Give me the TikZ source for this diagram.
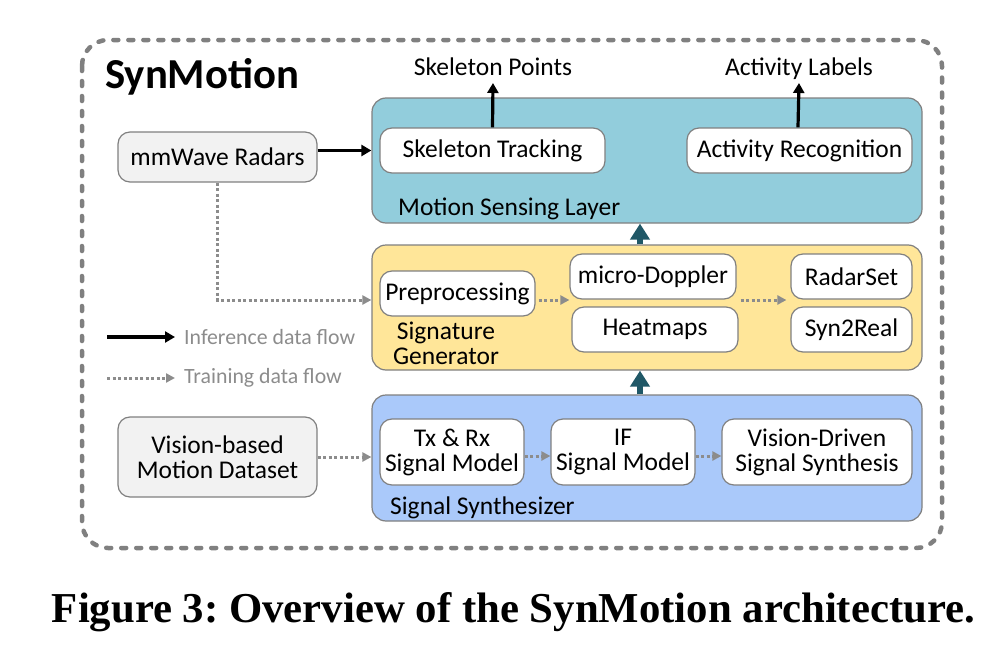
\documentclass[tikz,border=0pt]{standalone}
\usepackage{fontspec}
\setmainfont{Carlito}
\newfontfamily\capfont{Liberation Serif}
\usetikzlibrary{arrows.meta}
\definecolor{bordergray}{RGB}{128,128,128}
\definecolor{dashgray}{RGB}{128,128,128}
\definecolor{traingray}{RGB}{140,140,140}
\definecolor{tealfill}{RGB}{146,205,220}
\definecolor{yellowfill}{RGB}{255,230,153}
\definecolor{bluefill}{RGB}{170,201,250}
\definecolor{darkteal}{RGB}{32,88,103}
\definecolor{lightgrayfill}{RGB}{242,242,242}
\frenchspacing
\begin{document}
\begin{tikzpicture}[x=1pt,y=-1pt,
  box/.style={draw=bordergray, line width=1.2pt, rounded corners=12pt, fill=white, inner sep=0pt,
    font=\fontsize{25.5}{25}\selectfont, align=center},
  srcbox/.style={box, fill=lightgrayfill},
  layerbox/.style={draw=bordergray, line width=1.2pt, rounded corners=14pt, inner sep=0pt},
  lbl/.style={font=\fontsize{25.5}{25}\selectfont, align=center, inner sep=0pt},
  inf/.style={line width=3.2pt, -{Triangle[length=10pt,width=11pt]}},
  train/.style={draw=traingray, line width=3pt, dash pattern=on 3pt off 2.5pt, -{Triangle[length=9pt,width=9pt]}},
  bigup/.style={draw=darkteal, line width=6.5pt, -{Triangle[length=16pt,width=19pt]}},
  legtext/.style={text=traingray, font=\fontsize{21.8}{24}\selectfont, inner sep=0pt}
]
\useasboundingbox (0,0) rectangle (997,645);

% outer dashed frame
\draw[dashgray, line width=4.5pt, dash pattern=on 5pt off 10pt, line cap=round, rounded corners=26pt]
  (82,40) rectangle (942,548);

\node[anchor=base west, inner sep=0pt, font=\fontsize{42.7}{44}\selectfont\bfseries] (title) at (105,88) {SynMotion};

% layers
\node[layerbox, fill=tealfill, minimum width=550pt, minimum height=125pt] (msl) at (647,160.5) {};
\node[layerbox, fill=yellowfill, minimum width=550pt, minimum height=125pt] (sg) at (647,307.5) {};
\node[layerbox, fill=bluefill, minimum width=550pt, minimum height=126pt] (ss) at (647,458) {};

\node[lbl, anchor=base west] (msllbl) at (398,215) {Motion Sensing Layer};
\node[lbl] (sglbl) at (446,343) {Signature\\Generator};
\node[lbl, anchor=base west] (sslbl) at (390,514) {Signal Synthesizer};

% motion sensing layer
\node[box, minimum width=225pt, minimum height=45pt] (st) at (492.5,150.5) {Skeleton Tracking};
\node[box, minimum width=225pt, minimum height=45pt] (ar) at (799.5,150.5) {Activity Recognition};
\node[lbl, anchor=base] (sp) at (493,75) {Skeleton Points};
\node[lbl, anchor=base] (al) at (799,75) {Activity Labels};

% signature generator
\node[box, minimum width=155pt, minimum height=45pt] (pre) at (457.5,293.5) {Preprocessing};
\node[box, minimum width=166pt, minimum height=45pt] (md) at (653,276.5) {micro-Doppler};
\node[box, minimum width=166pt, minimum height=45pt] (hm) at (655,329.5) {Heatmaps};
\node[box, minimum width=121pt, minimum height=45pt] (rs) at (851.5,276.5) {RadarSet};
\node[box, minimum width=121pt, minimum height=45pt] (s2r) at (851.5,329.5) {Syn2Real};

% signal synthesizer
\node[box, minimum width=144pt, minimum height=66pt] (txrx) at (452,452) {Tx \& Rx\\Signal Model};
\node[box, minimum width=144pt, minimum height=66pt] (ifm) at (623,452) {IF\\Signal Model};
\node[box, minimum width=190pt, minimum height=66pt] (vds) at (817,452) {Vision-Driven\\Signal Synthesis};

% sources
\node[srcbox, minimum width=199pt, minimum height=50pt] (mm) at (217.5,157) {mmWave Radars};
\node[srcbox, minimum width=199pt, minimum height=80pt] (vmd) at (217.5,457) {Vision-based\\Motion Dataset};

% inference arrows
\draw[inf] (mm.east |- st.west) -- (msl.west |- st.west);
\draw[inf] (st.north) -- ([yshift=-8pt]sp.base);
\draw[inf] ([xshift=-1.5pt]ar.north) -- ([yshift=-8pt]al.base);

% layer arrows
\draw[bigup] ([xshift=-7pt]sg.north) -- ([xshift=-7pt]msl.south);
\draw[bigup] ([xshift=-7pt]ss.north) -- ([xshift=-7pt]sg.south);

% training arrows
\coordinate (tr) at ([yshift=-6.5pt]pre.east);
\draw[train] (mm.south) |- (sg.west |- tr);
\draw[train] ([xshift=3pt]tr) -- (tr -| md.west);
\draw[train] ([xshift=2pt]tr -| hm.east) -- ([xshift=-4pt]tr -| rs.west);
\draw[train] (vmd.east) -- (ss.west |- vmd.east);
\coordinate (tr2) at ([yshift=-4pt]txrx.east);
\draw[train] (tr2) -- (tr2 -| ifm.west);
\draw[train] (tr2 -| ifm.east) -- (tr2 -| vds.west);

% legend
\coordinate (la1) at (107,337);
\coordinate (lb1) at (175,337);
\coordinate (la2) at (107,378);
\coordinate (lb2) at (175,378);
\draw[inf] (la1) -- (lb1);
\draw[train] (la2) -- (lb2);
\node[legtext, anchor=west] (lt1) at (184,337) {Inference data flow};
\node[legtext, anchor=west] (lt2) at (184,378) {Training data flow};

% caption
\node[anchor=base, inner sep=0pt] (cap) at (513.5,622)
  {\resizebox{923pt}{30pt}{\capfont\bfseries Figure 3: Overview of the SynMotion architecture.}};
\end{tikzpicture}
\end{document}
